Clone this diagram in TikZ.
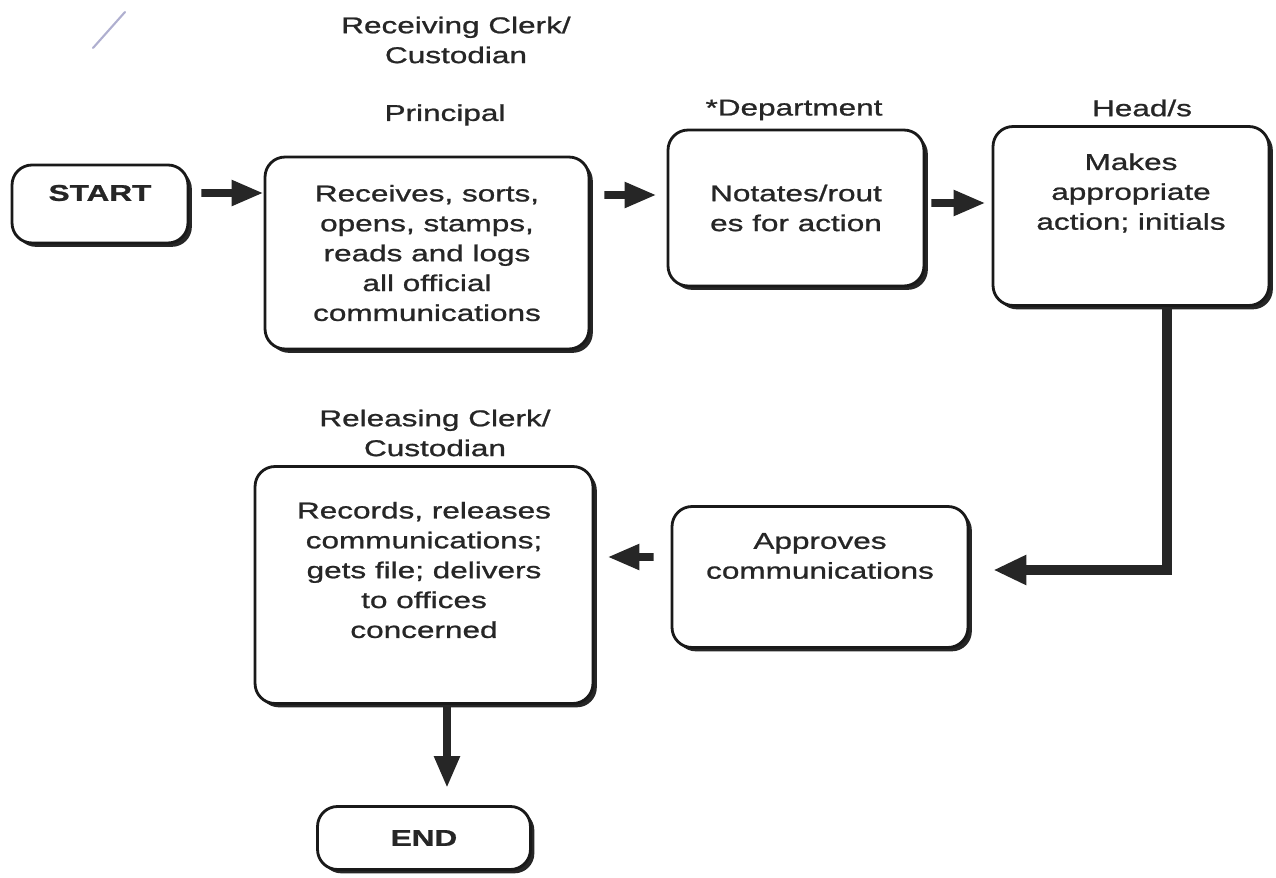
\documentclass[tikz,border=0pt]{standalone}
\usepackage{fontspec}
\setmainfont{Liberation Sans}[FakeStretch=1.38,FakeBold=1]
\usetikzlibrary{arrows.meta,positioning,shadows}
\tikzset{
    box/.style={draw=black!90,line width=1.6pt,rounded corners=4mm,fill=white,
        drop shadow={shadow xshift=2.2pt,shadow yshift=-2.2pt,fill=black!85,opacity=1}},
    boxtext/.style={align=center,inner sep=0pt,text=black!85,font=\fontsize{13}{17}\selectfont},
    role/.style={align=center,inner sep=0pt,text=black!85,font=\fontsize{13}{17}\selectfont},
    flow/.style={-{Triangle[length=6.4mm,width=4.8mm]},line width=4.5pt,draw=black!85},
    bigflow/.style={-{Triangle[length=6.6mm,width=5.6mm]},line width=6pt,draw=black!85}
}

\begin{document}
\begin{tikzpicture}[x=0.02cm,y=-0.02cm]
    \useasboundingbox (0,0) rectangle (1276,878);

    % stray pen mark in the corner
    \draw[blue!25!gray!50,line width=1.2pt,line cap=round] (125,12) -- (93,48);

    % boxes
    \node[box,minimum width=3.52cm,minimum height=1.56cm] (start)     at (100,204)  {};
    \node[box,minimum width=6.48cm,minimum height=3.84cm] (principal) at (427,253)  {};
    \node[box,minimum width=5.12cm,minimum height=3.12cm] (dept)      at (796,208)  {};
    \node[box,minimum width=5.52cm,minimum height=3.58cm] (head)      at (1131,216) {};
    \node[box,minimum width=5.92cm,minimum height=2.82cm] (approves)  at (820,577)  {};
    \node[box,minimum width=6.76cm,minimum height=4.74cm] (records)   at (424,585)  {};
    \node[box,minimum width=4.26cm,minimum height=1.26cm] (end)       at (424,838)  {};

    % texts in the boxes
    \node[boxtext,font=\fontsize{13}{17}\selectfont\bfseries] (start text) at ([yshift=2.2mm]start.center) {START};
    \node[boxtext] (principal text) at (principal.center) {Receives, sorts,\\opens, stamps,\\reads and logs\\all official\\communications};
    \node[boxtext] (dept text)      at (dept.center)      {Notates/rout\\es for action};
    \node[boxtext] (head text)      at ([yshift=4.6mm]head.center)     {Makes\\appropriate\\action; initials};
    \node[boxtext] (approves text)  at ([yshift=4.2mm]approves.center) {Approves\\communications};
    \node[boxtext] (records text)   at ([yshift=3mm]records.center)    {Records, releases\\communications;\\gets file; delivers\\to offices\\concerned};
    \node[boxtext,font=\fontsize{13}{17}\selectfont\bfseries] (end text) at (end.center) {END};

    % who does it
    \node[role] (receiving role) at (456,40)  {Receiving Clerk/\\Custodian};
    \node[role] (principal role) at (445,115) {Principal};
    \node[role] (dept role)      at (794,110) {*Department};
    \node[role] (head role)      at (1142,108) {Head/s};
    \node[role] (releasing role) at (435,433) {Releasing Clerk/\\Custodian};

    % flow
    \draw[flow] ([xshift=2.4mm,yshift=2.2mm]start.east) -- ([yshift=12mm]principal.west);
    \draw[flow] ([xshift=2.8mm,yshift=11.6mm]principal.east) -- ([xshift=-2mm,yshift=2.6mm]dept.west);
    \draw[flow] ([xshift=1.2mm,yshift=1mm]dept.east) -- ([xshift=-1.2mm,yshift=2.6mm]head.west);
    \draw[bigflow] ([xshift=7.2mm]head.south) |- ([xshift=4.8mm,yshift=1.4mm]approves.east);
    \draw[flow] ([xshift=-3.4mm,yshift=4mm]approves.west) -- ([xshift=2.6mm,yshift=5.6mm]records.east);
    \draw[flow] ([xshift=4.6mm]records.south) -- ([xshift=4.6mm,yshift=3.4mm]end.north);

\end{tikzpicture}
\end{document}
